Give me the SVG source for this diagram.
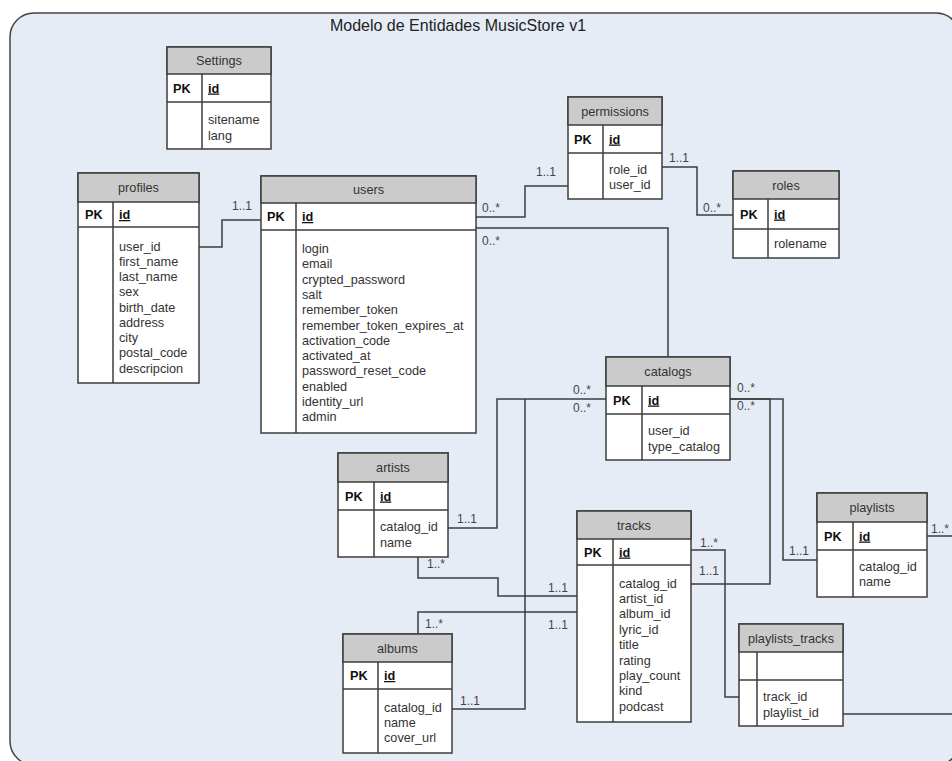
<svg xmlns="http://www.w3.org/2000/svg" width="952" height="761" viewBox="0 0 952 761">
<style>
text{font-family:"Liberation Sans",Arial,sans-serif;font-size:12.7px;fill:#333}
.title{font-size:16px;fill:#222}
.hd{text-anchor:middle}
.pk{font-weight:bold;fill:#111}
.id{font-weight:bold;text-decoration:underline;fill:#111}
.lbl{font-size:12px;fill:#444}
.box{fill:#fff;stroke:#3c3c3c;stroke-width:1.5}
.hdr{fill:#cbcbcb;stroke:#3c3c3c;stroke-width:1.5}
.ln{stroke:#3c3c3c;stroke-width:1.5;fill:none}
.con{stroke:#3c3c3c;stroke-width:1.5;fill:none}
</style>
<rect x="10" y="13" width="950" height="752" rx="24" fill="#e5ecf6" stroke="#444" stroke-width="1.5"/>
<text class="title" x="458" y="31" text-anchor="middle">Modelo de Entidades MusicStore v1</text>

<g id="connectors">
<polyline class="con" points="199,247 222,247 222,220 261,220"/>
<polyline class="con" points="476,217 525,217 525,186 568,186"/>
<polyline class="con" points="662,167 697,167 697,215 733,215"/>
<polyline class="con" points="476,228 668,228 668,357"/>
<polyline class="con" points="606,399 497,399 497,528 448,528"/>
<polyline class="con" points="525,399 525,709 452,709"/>
<polyline class="con" points="730,399 770,399 770,584 691,584"/>
<polyline class="con" points="730,399 783,399 783,560 817,560"/>
<polyline class="con" points="418,557 418,578 498,578 498,596 577,596"/>
<polyline class="con" points="418,634 418,612 577,612"/>
<polyline class="con" points="691,550 725,550 725,697 739,697"/>
<polyline class="con" points="927,536 960,536"/>
<polyline class="con" points="843,714 960,714"/>
<text class="lbl" x="232" y="209.5">1..1</text>
<text class="lbl" x="482" y="211.5">0..*</text>
<text class="lbl" x="536" y="175.5">1..1</text>
<text class="lbl" x="669" y="161.5">1..1</text>
<text class="lbl" x="703" y="211.5">0..*</text>
<text class="lbl" x="482" y="244.5">0..*</text>
<text class="lbl" x="573" y="393.5">0..*</text>
<text class="lbl" x="573" y="411.5">0..*</text>
<text class="lbl" x="737" y="391.5">0..*</text>
<text class="lbl" x="737" y="409.5">0..*</text>
<text class="lbl" x="457" y="522.5">1..1</text>
<text class="lbl" x="427" y="567.5">1..*</text>
<text class="lbl" x="548" y="591.5">1..1</text>
<text class="lbl" x="548" y="628.5">1..1</text>
<text class="lbl" x="425" y="627.5">1..*</text>
<text class="lbl" x="460" y="704.5">1..1</text>
<text class="lbl" x="700" y="546.5">1..*</text>
<text class="lbl" x="699" y="574.5">1..1</text>
<text class="lbl" x="789" y="554.5">1..1</text>
<text class="lbl" x="931" y="532.5">1..*</text>
</g>

<g id="settings">
<rect class="box" x="167" y="47" width="104" height="102"/>
<rect class="hdr" x="167" y="47" width="104" height="27"/>
<line class="ln" x1="167" y1="102" x2="271" y2="102"/>
<line class="ln" x1="202" y1="74" x2="202" y2="149"/>
<text class="hd" x="219" y="65">Settings</text>
<text class="pk" x="173" y="92.5">PK</text>
<text class="id" x="208" y="92.5">id</text>
<text x="208" y="123.5">sitename</text>
<text x="208" y="139.5">lang</text>
</g>

<g id="profiles">
<rect class="box" x="78" y="173" width="121" height="210"/>
<rect class="hdr" x="78" y="173" width="121" height="29"/>
<line class="ln" x1="78" y1="227" x2="199" y2="227"/>
<line class="ln" x1="113" y1="202" x2="113" y2="383"/>
<text class="hd" x="138.5" y="192">profiles</text>
<text class="pk" x="85" y="219">PK</text>
<text class="id" x="119" y="219">id</text>
<text x="119" y="250.5">user_id</text>
<text x="119" y="265.8">first_name</text>
<text x="119" y="281">last_name</text>
<text x="119" y="296.3">sex</text>
<text x="119" y="311.5">birth_date</text>
<text x="119" y="326.8">address</text>
<text x="119" y="342">city</text>
<text x="119" y="357.3">postal_code</text>
<text x="119" y="372.5">descripcion</text>
</g>

<g id="users">
<rect class="box" x="261" y="176" width="215" height="257"/>
<rect class="hdr" x="261" y="176" width="215" height="27"/>
<line class="ln" x1="261" y1="230" x2="476" y2="230"/>
<line class="ln" x1="296" y1="203" x2="296" y2="433"/>
<text class="hd" x="368.5" y="194">users</text>
<text class="pk" x="267" y="221">PK</text>
<text class="id" x="302" y="221">id</text>
<text x="302" y="253">login</text>
<text x="302" y="268.3">email</text>
<text x="302" y="283.6">crypted_password</text>
<text x="302" y="298.9">salt</text>
<text x="302" y="314.2">remember_token</text>
<text x="302" y="329.5">remember_token_expires_at</text>
<text x="302" y="344.8">activation_code</text>
<text x="302" y="360.1">activated_at</text>
<text x="302" y="375.4">password_reset_code</text>
<text x="302" y="390.7">enabled</text>
<text x="302" y="406">identity_url</text>
<text x="302" y="421.3">admin</text>
</g>

<g id="permissions">
<rect class="box" x="568" y="97" width="94" height="102"/>
<rect class="hdr" x="568" y="97" width="94" height="28"/>
<line class="ln" x1="568" y1="153" x2="662" y2="153"/>
<line class="ln" x1="603" y1="125" x2="603" y2="199"/>
<text class="hd" x="615" y="115.5">permissions</text>
<text class="pk" x="574" y="143.5">PK</text>
<text class="id" x="609" y="143.5">id</text>
<text x="609" y="173.5">role_id</text>
<text x="609" y="188.5">user_id</text>
</g>

<g id="roles">
<rect class="box" x="733" y="171" width="106" height="87"/>
<rect class="hdr" x="733" y="171" width="106" height="28"/>
<line class="ln" x1="733" y1="229" x2="839" y2="229"/>
<line class="ln" x1="768" y1="199" x2="768" y2="258"/>
<text class="hd" x="786" y="189.5">roles</text>
<text class="pk" x="740" y="218.5">PK</text>
<text class="id" x="774" y="218.5">id</text>
<text x="774" y="247.5">rolename</text>
</g>

<g id="catalogs">
<rect class="box" x="606" y="357" width="124" height="103"/>
<rect class="hdr" x="606" y="357" width="124" height="29"/>
<line class="ln" x1="606" y1="414" x2="730" y2="414"/>
<line class="ln" x1="642" y1="386" x2="642" y2="460"/>
<text class="hd" x="668" y="376">catalogs</text>
<text class="pk" x="613" y="404.5">PK</text>
<text class="id" x="648" y="404.5">id</text>
<text x="648" y="434.5">user_id</text>
<text x="648" y="450.5">type_catalog</text>
</g>

<g id="artists">
<rect class="box" x="338" y="453" width="110" height="104"/>
<rect class="hdr" x="338" y="453" width="110" height="29"/>
<line class="ln" x1="338" y1="510" x2="448" y2="510"/>
<line class="ln" x1="374" y1="482" x2="374" y2="557"/>
<text class="hd" x="393" y="472">artists</text>
<text class="pk" x="345" y="500.5">PK</text>
<text class="id" x="380" y="500.5">id</text>
<text x="380" y="530.5">catalog_id</text>
<text x="380" y="546.5">name</text>
</g>

<g id="tracks">
<rect class="box" x="577" y="511" width="114" height="211"/>
<rect class="hdr" x="577" y="511" width="114" height="28"/>
<line class="ln" x1="577" y1="565" x2="691" y2="565"/>
<line class="ln" x1="613" y1="539" x2="613" y2="722"/>
<text class="hd" x="634" y="529.5">tracks</text>
<text class="pk" x="584" y="556.5">PK</text>
<text class="id" x="619" y="556.5">id</text>
<text x="619" y="587.5">catalog_id</text>
<text x="619" y="602.9">artist_id</text>
<text x="619" y="618.3">album_id</text>
<text x="619" y="633.7">lyric_id</text>
<text x="619" y="649.1">title</text>
<text x="619" y="664.5">rating</text>
<text x="619" y="679.9">play_count</text>
<text x="619" y="695.3">kind</text>
<text x="619" y="710.7">podcast</text>
</g>

<g id="albums">
<rect class="box" x="343" y="634" width="109" height="119"/>
<rect class="hdr" x="343" y="634" width="109" height="28"/>
<line class="ln" x1="343" y1="689" x2="452" y2="689"/>
<line class="ln" x1="378" y1="662" x2="378" y2="753"/>
<text class="hd" x="397.5" y="652.5">albums</text>
<text class="pk" x="350" y="680">PK</text>
<text class="id" x="384" y="680">id</text>
<text x="384" y="711.5">catalog_id</text>
<text x="384" y="726.5">name</text>
<text x="384" y="742">cover_url</text>
</g>

<g id="playlists">
<rect class="box" x="817" y="493" width="110" height="104"/>
<rect class="hdr" x="817" y="493" width="110" height="29"/>
<line class="ln" x1="817" y1="550" x2="927" y2="550"/>
<line class="ln" x1="853" y1="522" x2="853" y2="597"/>
<text class="hd" x="872" y="512">playlists</text>
<text class="pk" x="824" y="540.5">PK</text>
<text class="id" x="859" y="540.5">id</text>
<text x="859" y="570.5">catalog_id</text>
<text x="859" y="585.5">name</text>
</g>

<g id="playlists_tracks">
<rect class="box" x="739" y="624" width="104" height="102"/>
<rect class="hdr" x="739" y="624" width="104" height="28"/>
<line class="ln" x1="739" y1="680" x2="843" y2="680"/>
<line class="ln" x1="757" y1="652" x2="757" y2="726"/>
<text class="hd" x="791" y="642.5">playlists_tracks</text>
<text x="763" y="700.5">track_id</text>
<text x="763" y="716.5">playlist_id</text>
</g>
</svg>
